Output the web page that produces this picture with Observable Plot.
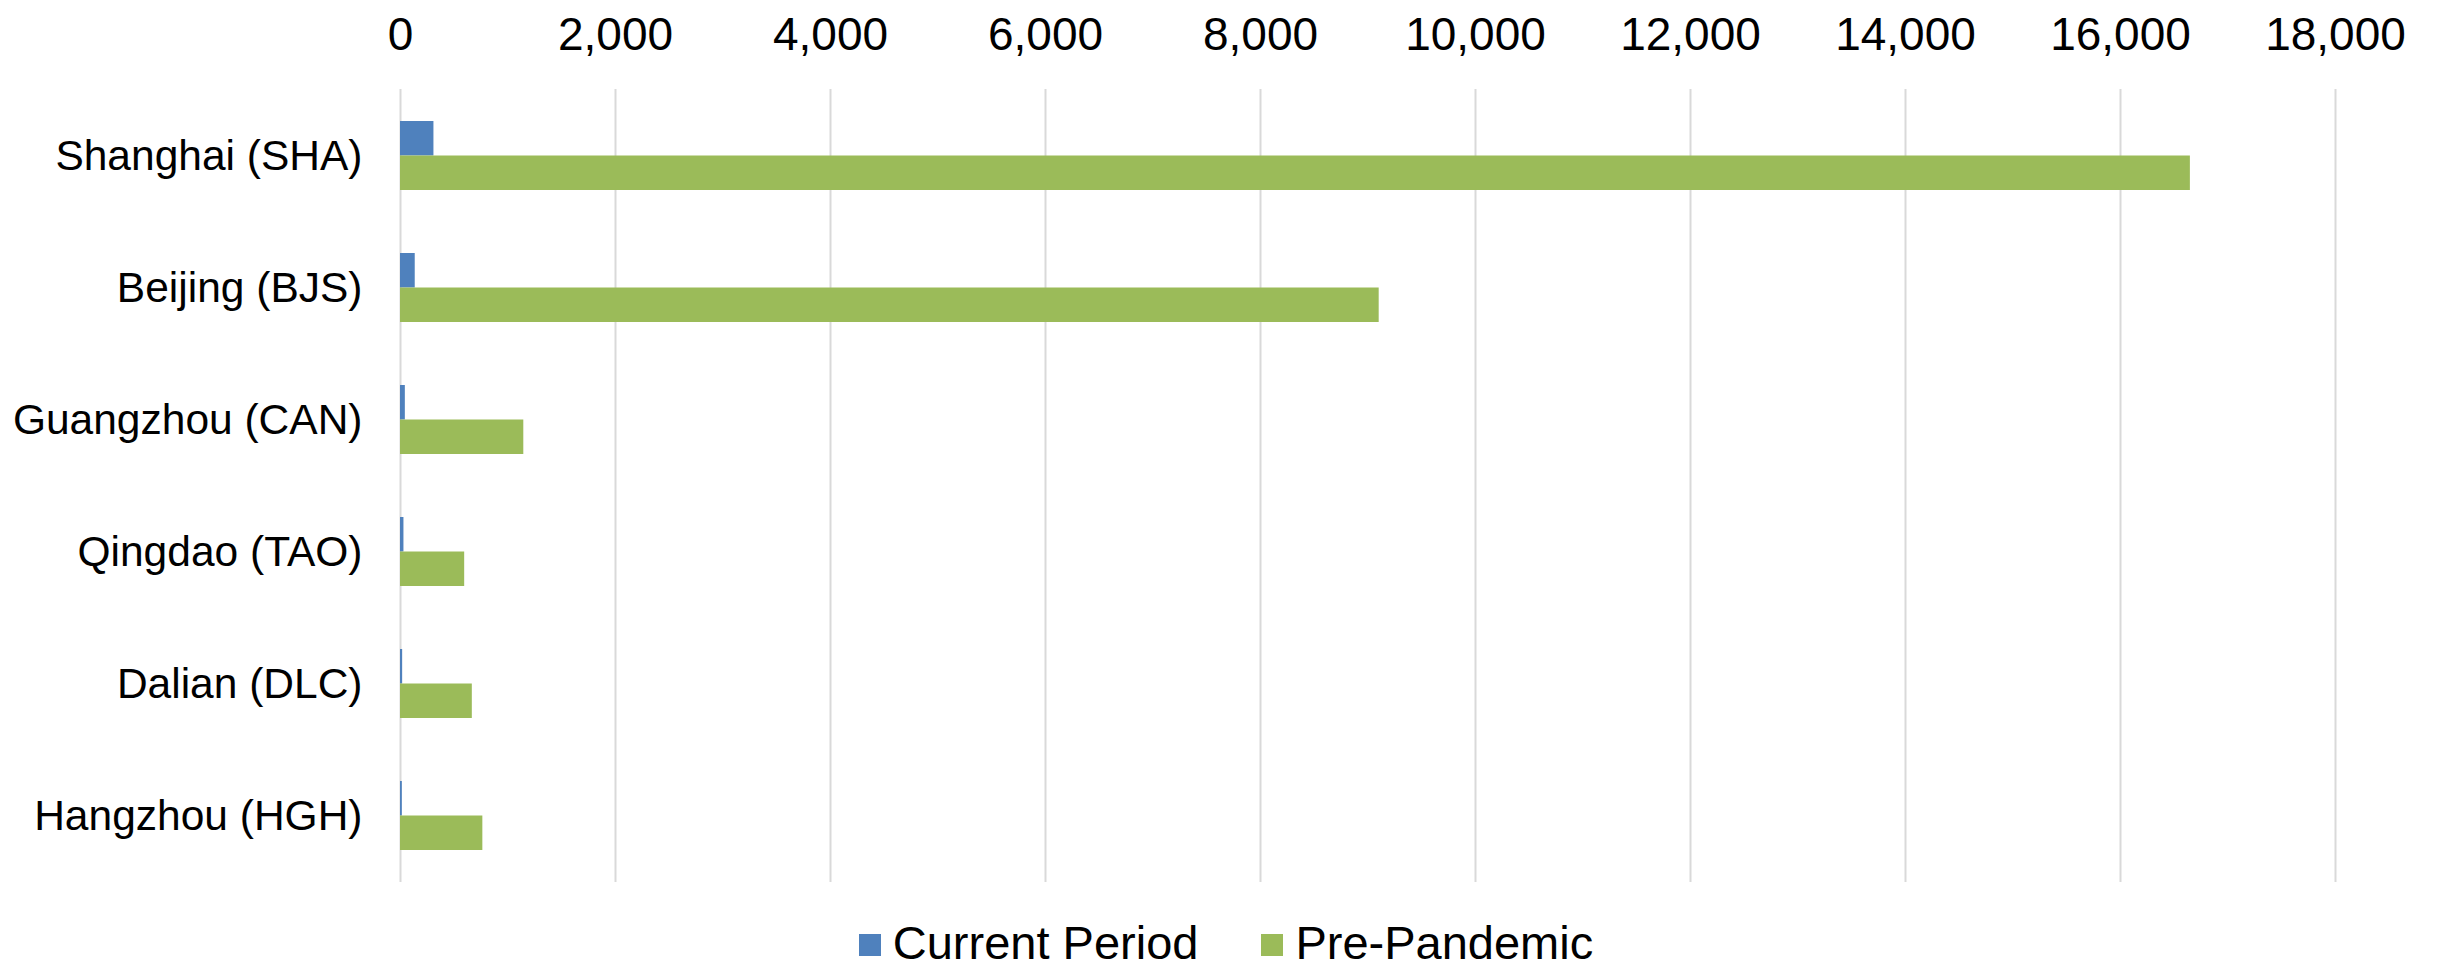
<!DOCTYPE html>
<html>
<head>
<meta charset="utf-8">
<script src="https://cdn.jsdelivr.net/npm/d3@7"></script>
<script src="https://cdn.jsdelivr.net/npm/@observablehq/plot@0.6"></script>
<style>
  html, body { margin: 0; padding: 0; background: #ffffff; }
  body { width: 2440px; font-family: "Liberation Sans", Arial, sans-serif; }
  #legend { display: flex; justify-content: center; align-items: center; height: 52px; line-height: 52px; font-size: 47px; color: #000; padding-left: 12px; }
  .item { display: flex; align-items: center; }
  .sw { width: 22px; height: 22px; margin-right: 12px; margin-top: 4px; }
  .gap { width: 63px; }
</style>
</head>
<body>
<div id="chart"></div>
<div id="legend"></div>
<script>
const cities = ["Shanghai (SHA)", "Beijing (BJS)", "Guangzhou (CAN)", "Qingdao (TAO)", "Dalian (DLC)", "Hangzhou (HGH)"];
const currentPeriod = [311, 137, 45, 32, 20, 17];
const prePandemic = [16650, 9104, 1147, 597, 668, 766];
const series = ["Current Period", "Pre-Pandemic"];
const colors = ["#4f81bd", "#9bbb59"];
const xTicks = [0, 2000, 4000, 6000, 8000, 10000, 12000, 14000, 16000, 18000];

const curData = cities.map((c, i) => ({city: c, value: currentPeriod[i]}));
const preData = cities.map((c, i) => ({city: c, value: prePandemic[i]}));

const bandHalf = 34.5;

const chart = Plot.plot({
  width: 2440,
  height: 917,
  marginLeft: 400,
  marginRight: 105,
  marginTop: 89,
  marginBottom: 35,
  style: {fontFamily: "Liberation Sans, Arial, sans-serif", color: "#000", background: "#fff"},
  x: {domain: [0, 18000]},
  y: {domain: cities, paddingInner: 0.478, paddingOuter: 0.239},
  marks: [
    Plot.gridX(xTicks, {stroke: "#d9d9d9", strokeOpacity: 1, strokeWidth: 2}),
    Plot.barX(curData, {x: "value", y: "city", fill: colors[0], insetBottom: bandHalf}),
    Plot.barX(preData, {x: "value", y: "city", fill: colors[1], insetTop: bandHalf}),
    Plot.axisX(xTicks, {anchor: "top", tickSize: 0, tickPadding: 40, fontSize: 46, tickFormat: d3.format(","), label: null}),
    Plot.axisY({tickSize: 0, tickPadding: 38, fontSize: 42.5, label: null})
  ]
});
document.getElementById("chart").appendChild(chart);

const legend = document.getElementById("legend");
series.forEach((s, i) => {
  if (i > 0) { const g = document.createElement("div"); g.className = "gap"; legend.appendChild(g); }
  const item = document.createElement("div");
  item.className = "item";
  const sw = document.createElement("div");
  sw.className = "sw";
  sw.style.background = colors[i];
  const t = document.createElement("span");
  t.textContent = s;
  item.appendChild(sw);
  item.appendChild(t);
  legend.appendChild(item);
});
</script>
</body>
</html>
